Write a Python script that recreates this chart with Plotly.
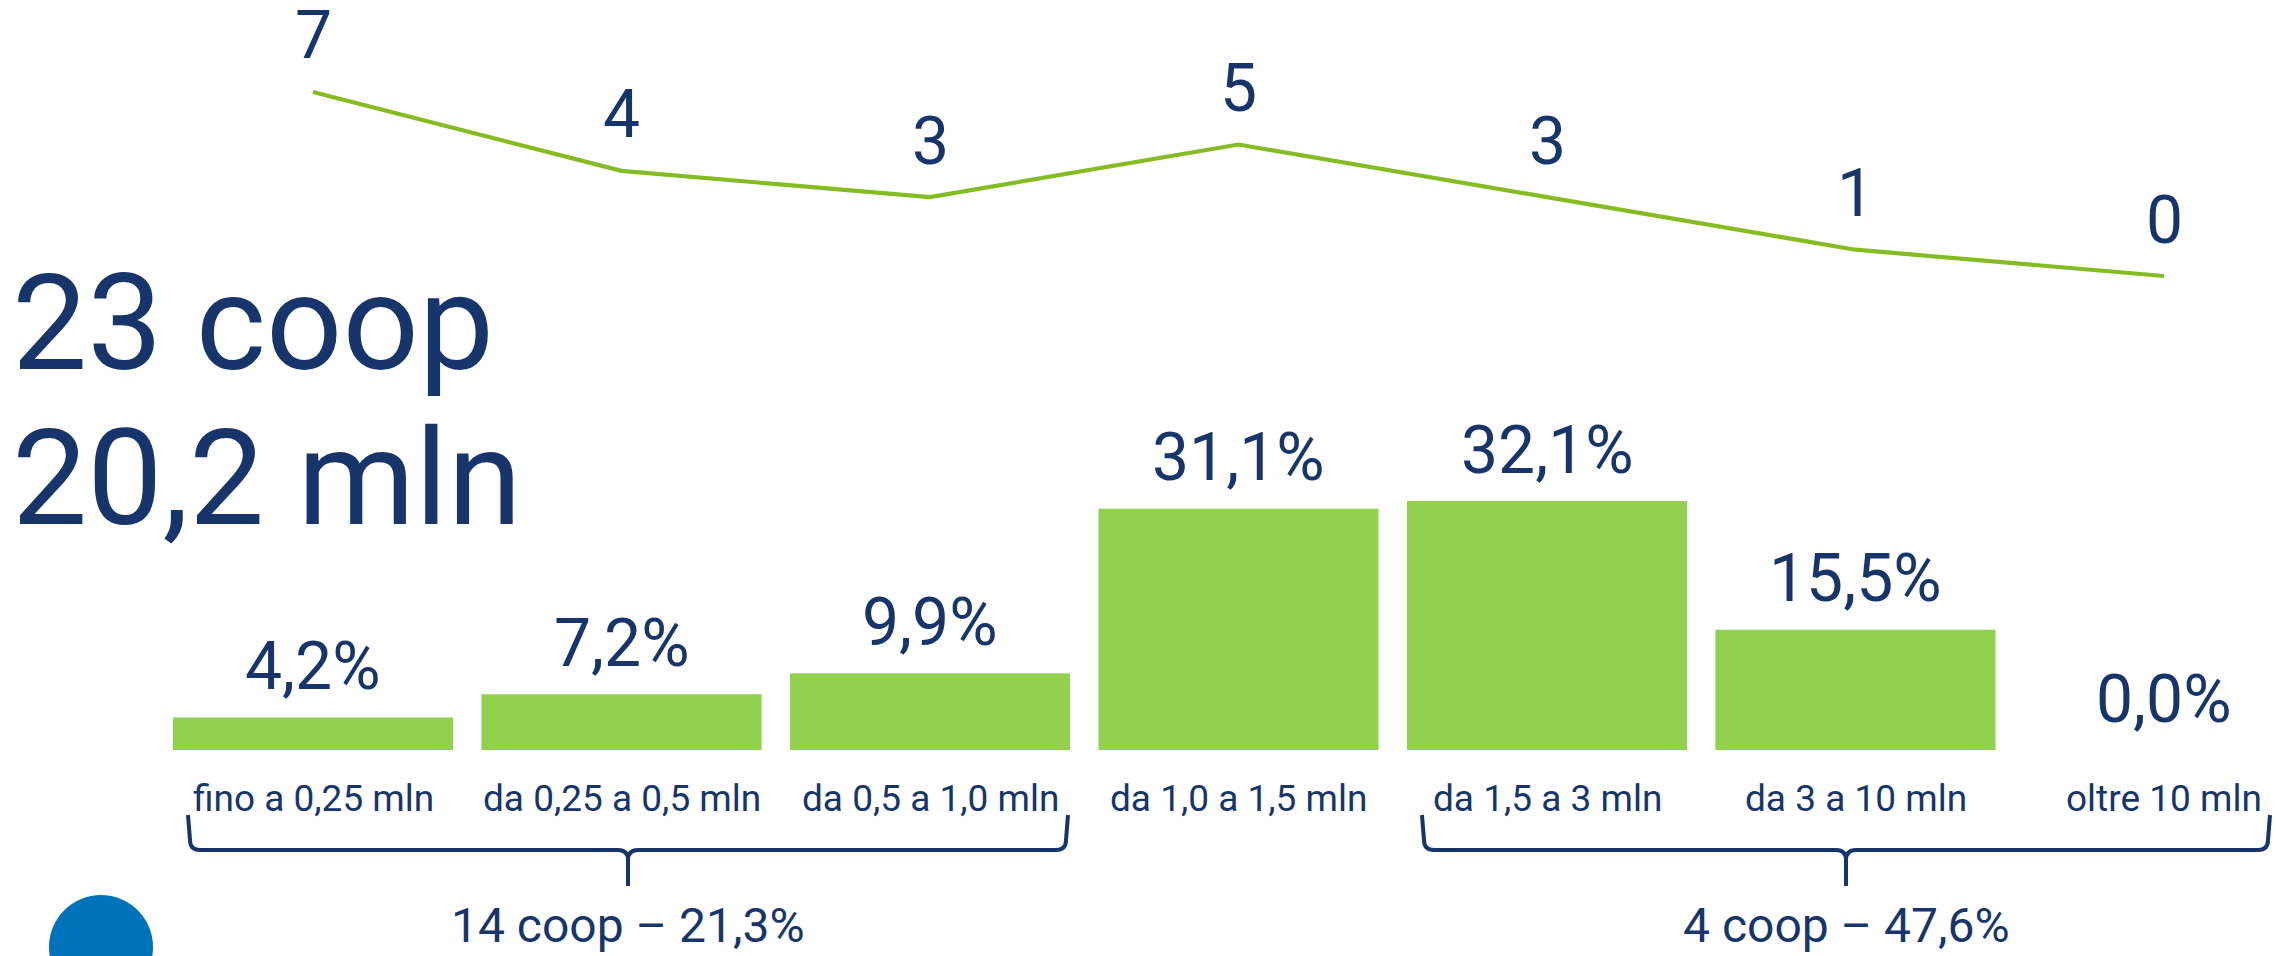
import plotly.graph_objects as go

# ---------------- data ----------------
categories = ["fino a 0,25 mln", "da 0,25 a 0,5 mln", "da 0,5 a 1,0 mln",
              "da 1,0 a 1,5 mln", "da 1,5 a 3 mln", "da 3 a 10 mln", "oltre 10 mln"]
share_pct = [4.2, 7.2, 9.9, 31.1, 32.1, 15.5, 0.0]      # bars (% of value)
coop_count = [7, 4, 3, 5, 3, 1, 0]                       # line (number of coops)
headline_lines = ["23 coop", "20,2 mln"]
group_spans = [(0, 2), (4, 6)]
group_labels = ["14 coop – 21,3%", "4 coop – 47,6%"]

# ---------------- style ----------------
W, H = 2276, 956
NAVY = "#17356A"
BAR_GREEN = "#92D050"
LINE_GREEN = "#84BC22"
BLUE = "#0072BC"
FONT = "Roboto"

# axis geometry (pixels <-> data)
X0_PX, X_STEP = 313.0, 308.5          # centre of first category, spacing
Y0_PX, Y_STEP = 750.0, 7.757          # bar baseline, px per %
Y2_0_PX, Y2_STEP = 276.0, 26.29       # line zero, px per coop

x_range = [(0 - X0_PX) / X_STEP, (W - X0_PX) / X_STEP]
y_range = [(Y0_PX - H) / Y_STEP, Y0_PX / Y_STEP]
y2_range = [(Y2_0_PX - H) / Y2_STEP, Y2_0_PX / Y2_STEP]

def px2x(px):
    return (px - X0_PX) / X_STEP

def py2y(py):
    return (Y0_PX - py) / Y_STEP

idx = list(range(len(categories)))

fig = go.Figure()
fig.add_trace(go.Bar(x=idx, y=share_pct, marker=dict(color=BAR_GREEN, line=dict(width=0)),
                     hoverinfo="skip", showlegend=False))
fig.add_trace(go.Scatter(x=idx, y=coop_count, yaxis="y2", mode="lines",
                         line=dict(color=LINE_GREEN, width=4.2),
                         hoverinfo="skip", showlegend=False))

ann = []
# bar value labels
for i, v in zip(idx, share_pct):
    ann.append(dict(x=i, y=v, xref="x", yref="y", yshift=51, yanchor="middle",
                    text=f"{v:.1f}%".replace(".", ","), showarrow=False,
                    font=dict(family=FONT, size=66, color=NAVY)))
# line value labels
for i, c in zip(idx, coop_count):
    ann.append(dict(x=i, y=c, xref="x", yref="y2", yshift=56, yanchor="middle",
                    text=str(c), showarrow=False,
                    font=dict(family=FONT, size=66, color=NAVY)))
# category labels
for i, cat in zip(idx, categories):
    ann.append(dict(x=i, y=0, xref="x", yref="y", yshift=-48, yanchor="middle",
                    text=cat, showarrow=False,
                    font=dict(family=FONT, size=37, color=NAVY)))
# headline
for line_txt, cy in zip(headline_lines, [324, 478]):
    ann.append(dict(x=10 / W, y=1 - cy / H, xref="paper", yref="paper",
                    xanchor="left", yanchor="middle", text=line_txt, showarrow=False,
                    font=dict(family=FONT, size=134, color=NAVY)))

shapes = []
# group braces + labels (brace end offsets in px from first/last category centre)
brace_left_pad = [125, 125]
brace_right_pad = [138, 106]
for (a, b), lab, lp, rp in zip(group_spans, group_labels, brace_left_pad, brace_right_pad):
    xl = X0_PX + X_STEP * a - lp
    xr = X0_PX + X_STEP * b + rp
    xc = (xl + xr) / 2
    yt, ym, ytip, r = 815, 850, 886, 10
    pts = [
        ("M", xl, yt), ("L", xl + 2, ym - r), ("Q", xl + 2, ym, xl + 2 + r, ym),
        ("L", xc - r, ym), ("Q", xc, ym, xc, ym + r), ("L", xc, ytip),
        ("M", xc, ym + r), ("Q", xc, ym, xc + r, ym),
        ("L", xr - 2 - r, ym), ("Q", xr - 2, ym, xr - 2, ym - r), ("L", xr, yt),
    ]
    path = ""
    for p in pts:
        cmd = p[0]
        coords = p[1:]
        s = []
        for k in range(0, len(coords), 2):
            s.append(f"{px2x(coords[k]):.5f},{py2y(coords[k+1]):.5f}")
        path += cmd + " " + " ".join(s) + " "
    shapes.append(dict(type="path", path=path.strip(), xref="x", yref="y",
                       line=dict(color=NAVY, width=4), layer="above"))
    ann.append(dict(x=px2x(xc), y=1 - 925 / H, xref="x", yref="paper",
                    yanchor="middle", text=lab, showarrow=False,
                    font=dict(family=FONT, size=48, color=NAVY)))

# decorative blue circle (bottom left)
shapes.append(dict(type="circle", xref="paper", yref="paper",
                   x0=49 / W, x1=153 / W, y0=1 - 999 / H, y1=1 - 895 / H,
                   fillcolor=BLUE, line=dict(width=0), layer="above"))

fig.update_layout(
    width=W, height=H, margin=dict(l=0, r=0, t=0, b=0),
    paper_bgcolor="white", plot_bgcolor="white",
    bargap=0.092, showlegend=False,
    xaxis=dict(range=x_range, visible=False, fixedrange=True),
    yaxis=dict(range=y_range, visible=False, fixedrange=True),
    yaxis2=dict(range=y2_range, visible=False, overlaying="y", fixedrange=True),
    annotations=ann, shapes=shapes,
    font=dict(family=FONT, color=NAVY),
)

fig.write_html("out.html", config={"displayModeBar": False},
               post_script="document.body.style.margin='0';document.body.style.overflow='hidden';")
